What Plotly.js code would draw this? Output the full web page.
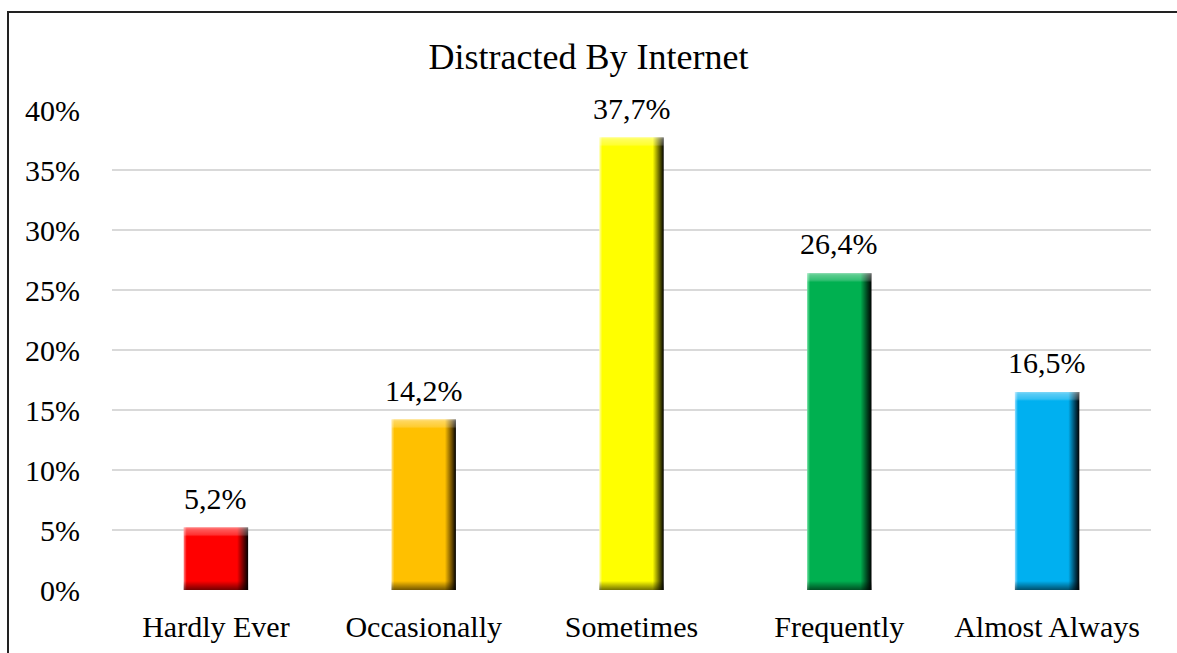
<!DOCTYPE html>
<html>
<head>
<meta charset="utf-8">
<script src="https://cdn.plot.ly/plotly-3.0.1.min.js"></script>
<style>
  html, body { margin: 0; padding: 0; background: #fff; }
  #wrap { position: relative; width: 1177px; height: 653px; overflow: hidden; }
  #chart { width: 1177px; height: 653px; }
  #frame { position: absolute; left: 7px; top: 11px; width: 1300px; height: 800px;
           border-left: 2px solid #222; border-top: 2px solid #222; pointer-events: none; }
</style>
</head>
<body>
<div id="wrap">
  <div id="chart"></div>
  <div id="frame"></div>
</div>
<script>
const categories = ["Hardly Ever", "Occasionally", "Sometimes", "Frequently", "Almost Always"];
const values = [5.2, 14.2, 37.7, 26.4, 16.5];
const labels = ["5,2%", "14,2%", "37,7%", "26,4%", "16,5%"];
const colors = ["#FF0000", "#FFC000", "#FFFF00", "#00B050", "#00B0F0"];
const lightColors = ["#ff8080", "#ffe080", "#ffffa8", "#6fe0a0", "#8fdcff"];
const darkColors = ["#5a0000", "#6a4a00", "#5c5c00", "#003d1c", "#003c55"];
const tickVals = [0, 5, 10, 15, 20, 25, 30, 35, 40];
const tickText = ["0%", "5%", "10%", "15%", "20%", "25%", "30%", "35%", "40%"];

const FONT = "'Liberation Serif', 'Times New Roman', serif";

const trace = {
  type: "bar",
  x: categories,
  y: values,
  marker: { color: colors, line: { width: 0 } },
  hoverinfo: "skip"
};

const annotations = categories.map((c, i) => ({
  x: c, y: values[i], xref: "x", yref: "y",
  text: labels[i], showarrow: false,
  yanchor: "bottom", yshift: 11,
  font: { family: FONT, size: 30, color: "#000" }
}));

const layout = {
  width: 1177,
  height: 653,
  margin: { l: 112, r: 26, t: 110, b: 63 },
  paper_bgcolor: "#ffffff",
  plot_bgcolor: "#ffffff",
  bargap: 0.69,
  showlegend: false,
  font: { family: FONT, size: 30, color: "#000" },
  annotations: annotations,
  title: {
    text: "Distracted By Internet",
    font: { family: FONT, size: 36, color: "#000" },
    x: 0.5, xanchor: "center",
    y: 0.913, yanchor: "middle"
  },
  xaxis: {
    showgrid: false, zeroline: false, showline: false, ticks: "",
    ticklabelstandoff: 16,
    tickfont: { family: FONT, size: 30, color: "#000" }
  },
  yaxis: {
    range: [0, 40],
    tickvals: tickVals, ticktext: tickText,
    showgrid: true, gridcolor: "#d9d9d9", gridwidth: 1.5,
    zeroline: false, showline: false, ticks: "",
    ticklabelstandoff: 31,
    tickfont: { family: FONT, size: 30, color: "#000" }
  }
};

const NS = "http://www.w3.org/2000/svg";
function addGrad(defs, id, attrs, stops) {
  const g = document.createElementNS(NS, "linearGradient");
  g.setAttribute("id", id);
  g.setAttribute("gradientUnits", "userSpaceOnUse");
  for (const k in attrs) g.setAttribute(k, attrs[k]);
  stops.forEach(s => {
    const st = document.createElementNS(NS, "stop");
    st.setAttribute("offset", s[0]);
    st.setAttribute("stop-color", s[1]);
    st.setAttribute("stop-opacity", s[2] === undefined ? 1 : s[2]);
    g.appendChild(st);
  });
  defs.appendChild(g);
}

Plotly.newPlot("chart", [trace], layout, { displayModeBar: false, staticPlot: true }).then(gd => {
  const svg = gd.querySelector("svg.main-svg");
  let defs = svg.querySelector("defs");
  if (!defs) { defs = document.createElementNS(NS, "defs"); svg.insertBefore(defs, svg.firstChild); }
  const paths = gd.querySelectorAll(".barlayer .point path");
  paths.forEach((p, i) => {
    const b = p.getBBox();
    const w = b.width, h = b.height;
    const bw = 9;
    addGrad(defs, "hg" + i, { x1: b.x, y1: 0, x2: b.x + w, y2: 0 }, [
      [0, lightColors[i]], [3 / w, colors[i]], [(w - bw - 2) / w, colors[i]],
      [(w - 4) / w, darkColors[i]], [1, "#000"]
    ]);
    const t1 = Math.min(0.45, bw / h), tm = Math.min(0.44, (bw - 2) / h), t0 = Math.min(0.4, 2 / h);
    const b0 = Math.max(0.55, (h - bw) / h);
    addGrad(defs, "vg" + i, { x1: 0, y1: b.y, x2: 0, y2: b.y + h }, [
      [0, "#ffffff", 0.5], [t0, "#ffffff", 0.35], [tm, "#ffffff", 0.2], [t1, "#ffffff", 0.0],
      [b0, "#000000", 0.0], [1, "#000000", 0.55]
    ]);
    p.style.fill = "url(#hg" + i + ")";
    p.setAttribute("fill", "url(#hg" + i + ")");
    const c = p.cloneNode();
    c.style.fill = "url(#vg" + i + ")";
    c.style.fillOpacity = 1;
    c.style.opacity = 1;
    c.setAttribute("fill", "url(#vg" + i + ")");
    c.style.stroke = "none";
    p.parentNode.appendChild(c);
  });
});
</script>
</body>
</html>
